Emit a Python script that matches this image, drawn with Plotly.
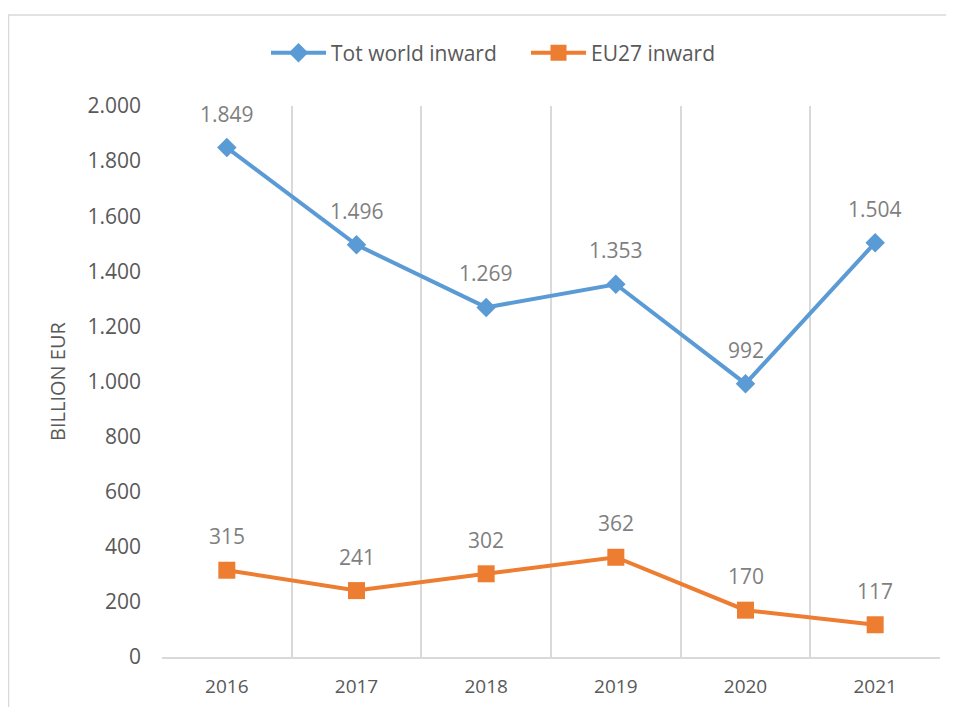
import plotly.graph_objects as go

years = ["2016", "2017", "2018", "2019", "2020", "2021"]
world_inward = [1849, 1496, 1269, 1353, 992, 1504]
eu27_inward = [315, 241, 302, 362, 170, 117]
y_ticks = [0, 200, 400, 600, 800, 1000, 1200, 1400, 1600, 1800, 2000]

BLUE = "#5B9BD5"
ORANGE = "#ED7D31"
TXT = "#595959"
LBL = "#7F7F7F"
GRID = "#D9D9D9"
FONT = "Open Sans"

def fmt(v):
    return f"{v:,}".replace(",", ".")

# page body has an 8px margin, so figure coordinates are offset by 8px
W, H = 946, 699
ML, MR, MT, MB = 154, 14, 98, 50
pw = W - ML - MR
ph = H - MT - MB

fig = go.Figure()
fig.add_trace(go.Scatter(
    x=years, y=world_inward, name="Tot world inward", mode="lines+markers",
    line=dict(color=BLUE, width=4),
    marker=dict(symbol="diamond", size=15, color=BLUE),
))
fig.add_trace(go.Scatter(
    x=years, y=eu27_inward, name="EU27 inward", mode="lines+markers",
    line=dict(color=ORANGE, width=4),
    marker=dict(symbol="square", size=17, color=ORANGE),
))

annotations = []
for ys in (world_inward, eu27_inward):
    for i, y in enumerate(ys):
        annotations.append(dict(
            x=i, y=y, xref="x", yref="y", text=fmt(y), showarrow=False, yshift=34,
            font=dict(family=FONT, size=21, color=LBL),
        ))

fig.update_layout(
    width=W, height=H,
    margin=dict(l=ML, r=MR, t=MT, b=MB),
    paper_bgcolor="white", plot_bgcolor="white",
    font=dict(family=FONT, color=TXT),
    separators=",.",
    showlegend=True,
    legend=dict(
        orientation="h", x=(258 - ML) / pw, xanchor="left",
        y=1 + (MT - 45) / ph, yanchor="middle",
        font=dict(family=FONT, size=21, color=TXT),
        itemwidth=55, entrywidth=190,
    ),
    annotations=annotations,
    xaxis=dict(
        type="category", tickson="boundaries", automargin=False,
        showgrid=True, gridcolor=GRID, gridwidth=1.5,
        showline=True, linecolor=GRID, linewidth=1.5,
        ticks="", ticklabelstandoff=11,
        tickfont=dict(family=FONT, size=19, color=TXT),
        range=[-0.5, len(years) - 0.5],
    ),
    yaxis=dict(
        range=[0, 2000], tickvals=y_ticks, separatethousands=True,
        showgrid=False, zeroline=False, showline=False, ticks="",
        ticklabelstandoff=20, automargin=False,
        tickfont=dict(family=FONT, size=21, color=TXT),
        title=dict(text="BILLION EUR", font=dict(family=FONT, size=20, color=TXT), standoff=16),
    ),
    shapes=[dict(
        type="rect", xref="paper", yref="paper",
        x0=(0.5 - ML) / pw, x1=(W + 20 - ML) / pw,
        y0=1 + (MT - 7) / ph, y1=-(MB + 20) / ph,
        line=dict(color=GRID, width=1.5), fillcolor="rgba(0,0,0,0)", layer="below",
    )],
)

fig.write_html("out.html")
